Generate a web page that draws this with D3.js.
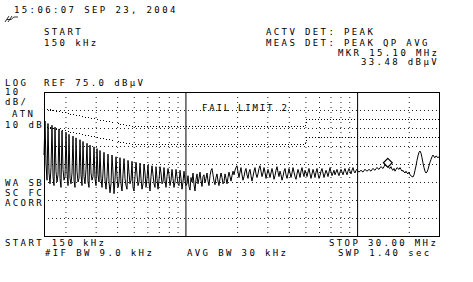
<!DOCTYPE html>
<html>
<head>
<meta charset="utf-8">
<script src="https://cdn.jsdelivr.net/npm/d3@7"></script>
<style>
    body { margin: 0; background: #fff; }
    text {
        font-family: "DejaVu Sans Mono", monospace;
        font-size: 9px;
        letter-spacing: 2.38px;
        fill: #000;
    }
</style>
</head>
<body>
<svg id="chart" width="473" height="282"></svg>
<script>
// trace level in dBuV, one value per display point, 150 kHz .. 30 MHz (log sweep)
let trace = [
    // 150 kHz .. ~330 kHz, harmonic comb
    40, 58.9, 35, 26, 57.5, 30, 24, 33, 56.5, 28,
    23, 55.5, 31, 25, 29, 54.5, 27, 22, 53.5, 32,
    26, 28, 52.5, 30, 23, 51.5, 27, 24, 30, 50.5,
    26, 22, 49.5, 31, 25, 27, 48.5, 29, 23, 47.5,
    28, 24, 32, 46.5, 25, 22, 45.5, 30, 26, 28,
    44.5, 27, 23, 43.5, 29, 25, 42.5,
    // ~330 kHz .. 1 MHz
    27, 22, 30, 41.5, 26, 21, 28, 40.5, 25, 19,
    24, 40.0, 30, 18.5, 26, 39.0, 28, 22, 25, 38.5,
    24, 20, 29, 38.0, 27, 23, 21, 37.0, 30, 24,
    26, 36.5, 22, 20, 28, 36.0, 29, 23, 25, 35.5,
    27, 21, 24, 35.0, 30, 22, 27, 34.5, 25, 20,
    28, 34.0, 29, 24, 22, 33.5, 27, 21, 26, 33.5,
    30, 24, 25, 33.0, 26, 22, 28, 32.5, 29, 23,
    26, 32.0, 27, 22, 25, 32.0, 28, 24, 23, 31.5,
    27, 21, 25, 31.0, 26, 23,
    // 1 MHz .. ~5 MHz
    24.0, 28.5, 22.5, 20.5, 27.5, 25.0, 30.0, 23.5, 20.0, 26.5,
    29.5, 24.0, 27.0, 30.5, 26.0, 22.5, 28.0, 29.0, 24.5, 27.0,
    30.0, 25.5, 23.0, 28.5, 31.5, 32.5, 29.0, 25.5, 23.5, 27.5,
    29.5, 25.5, 23.0, 27.0, 30.0, 27.5, 24.0, 25.0, 29.5, 27.0,
    24.0, 27.5, 30.5, 28.0, 25.5, 28.5, 31.0, 29.0, 31.5, 33.0,
    34.0, 30.5, 27.5, 30.5, 33.0, 29.0, 26.0, 28.0, 31.0, 32.5,
    29.0, 27.0, 30.5, 32.0, 28.5, 25.5, 28.0, 31.0, 33.0, 29.5,
    27.5, 29.5, 32.5, 34.0, 31.0, 28.0, 30.0, 33.0, 30.5, 27.0,
    29.5, 32.0, 30.0, 27.5, 30.0, 32.5, 30.0, 26.5, 28.5, 31.5,
    33.5, 30.5, 28.0, 31.0, 29.0, 26.0, 28.0, 31.0, 32.5, 29.0,
    27.0, 29.5, 32.5, 30.0, 27.5, 30.0, 33.0, 30.5, 28.0, 26.5,
    29.5, 32.0, 30.0, 27.5, 31.0, 33.0, 30.0, 28.0, 31.5, 30.0,
    // ~5 MHz .. 15 MHz
    28.0, 30.5, 32.5, 29.5, 27.0, 29.5, 32.0, 30.0, 27.5, 30.5,
    32.5, 29.5, 27.0, 28.5, 31.0, 32.5, 30.0, 27.5, 29.5, 31.5,
    30.0, 28.0, 30.5, 33.0, 30.5, 28.5, 30.0, 31.5, 29.0, 30.5,
    32.0, 30.0, 28.5, 30.5, 32.0, 30.5, 29.0, 31.0, 32.5, 30.5,
    29.0, 31.0, 32.5, 31.0, 29.5, 31.5, 33.0, 31.0, 30.0, 31.5,
    32.0, 31.0, 30.5, 31.0, 31.5, 31.0, 30.5, 31.5, 32.0, 31.5,
    31.0, 31.5, 32.0, 31.5, 31.0, 32.0, 32.5, 32.0, 31.5, 32.5,
    33.0, 32.5, 32.0, 33.0, 33.5, 33.0, 32.5, 33.5, 34.5, 34.0,
    // 15 MHz .. 30 MHz
    33.8, 33.5, 33.0, 32.5, 33.5, 32.0, 31.5, 32.5, 31.0, 32.0,
    33.0, 32.5, 32.0, 33.0, 32.0, 31.0, 31.5, 30.5, 30.0, 31.0,
    30.0, 29.5, 30.5, 29.0, 28.5, 28.0, 27.8, 29.0, 31.5, 34.0,
    37.0, 39.5, 41.5, 42.2, 41.0, 38.5, 35.5, 33.0, 31.0, 30.0,
    30.5, 32.0, 34.0, 36.0, 37.5, 39.0, 40.0, 39.0, 38.5, 39.5,
    39.0, 38.5, 39.0
];

// EN 55022 class B limits, [MHz, dBuV]
let qpLimit = [[0.15, 66], [0.5, 56], [5, 56], [5.1, 60], [30, 60]];
let avgLimit = [[0.15, 56], [0.5, 46], [5, 46], [5.1, 50], [30, 50]];

let gridFreqs = [0.2, 0.3, 0.4, 0.5, 0.6, 0.7, 0.8, 0.9, 2, 3, 4, 5, 6, 7, 8, 9, 20];
let decadeFreqs = [1, 10];
let levelTicks = [65, 55, 45, 35, 25, 15, 5];

let markerFreq = 15.10,
    markerLevel = 33.48;

let svg = d3.select("#chart");

let plot = {left: 44, right: 439, top: 92, bottom: 236};

let x = d3.scaleLog().domain([0.15, 30]).range([plot.left, plot.right]),
    xi = d3.scaleLinear().domain([0, trace.length - 1]).range([plot.left, plot.right]),
    y = d3.scaleLinear().domain([-5, 75]).range([plot.bottom, plot.top]);

// dotted grid
svg.append("g")
    .attr("transform", `translate(0,${plot.top})`)
    .call(d3.axisBottom(x).tickValues(gridFreqs).tickSize(plot.bottom - plot.top).tickFormat(""))
    .call((g)=>g.select(".domain").remove())
    .call((g)=>g.selectAll(".tick line").attr("stroke", "#222").attr("stroke-dasharray", "1,4"));

svg.append("g")
    .attr("transform", `translate(${plot.left},0)`)
    .call(d3.axisRight(y).tickValues(levelTicks).tickSize(plot.right - plot.left).tickFormat(""))
    .call((g)=>g.select(".domain").remove())
    .call((g)=>g.selectAll(".tick line").attr("stroke", "#222").attr("stroke-dasharray", "1,3"));

svg.append("g")
    .attr("transform", `translate(0,${plot.top})`)
    .call(d3.axisBottom(x).tickValues(decadeFreqs).tickSize(plot.bottom - plot.top).tickFormat(""))
    .call((g)=>g.select(".domain").remove())
    .call((g)=>g.selectAll(".tick line").attr("stroke", "#000"));

svg.append("rect")
    .attr("x", plot.left + 0.5)
    .attr("y", plot.top + 0.5)
    .attr("width", plot.right - plot.left)
    .attr("height", plot.bottom - plot.top)
    .attr("fill", "none")
    .attr("stroke", "#000")
    .attr("shape-rendering", "crispEdges");

// limit lines
let limitLine = d3.line()
    .x((d)=>x(d[0]))
    .y((d)=>y(d[1]) + 0.5);

svg.selectAll(".limit")
    .data([qpLimit, avgLimit])
    .enter().append("path")
    .attr("class", "limit")
    .attr("d", limitLine)
    .attr("fill", "none")
    .attr("stroke", "#000")
    .attr("stroke-width", 1)
    .attr("stroke-dasharray", "1,2")
    .attr("shape-rendering", "crispEdges");

// trace
let traceLine = d3.line()
    .x((d, i)=>xi(i))
    .y((d)=>y(d));

svg.append("path")
    .datum(trace)
    .attr("d", traceLine)
    .attr("fill", "none")
    .attr("stroke", "#000")
    .attr("stroke-width", 1);

svg.append("path")
    .attr("d", d3.symbol(d3.symbolDiamond2, 50)())
    .attr("transform", `translate(${x(markerFreq)},${y(markerLevel) - 4})`)
    .attr("fill", "#fff")
    .attr("stroke", "#000")
    .attr("stroke-width", 1.2);

// annotations
let labels = [
    [14, 13, "15:06:07 SEP 23, 2004"],
    [44, 35, "START"],
    [44, 46, "150 kHz"],
    [266, 35, "ACTV DET: PEAK"],
    [266, 45.5, "MEAS DET: PEAK QP AVG"],
    [338, 55.5, "MKR 15.10 MHz"],
    [361, 65, "33.48 dB\u00b5V"],
    [5, 86, "LOG"],
    [44, 86, "REF 75.0 dB\u00b5V"],
    [5, 95, "10"],
    [5, 105, "dB/"],
    [12, 117, "ATN"],
    [5, 127.5, "10 dB"],
    [5, 185.5, "WA SB"],
    [5, 195.5, "SC FC"],
    [5, 206, "ACORR"],
    [5, 246, "START 150 kHz"],
    [45, 255.5, "#IF BW 9.0 kHz"],
    [187, 255.5, "AVG BW 30 kHz"],
    [329, 246, "STOP 30.00 MHz"],
    [338, 255.5, "SWP 1.40 sec"]
];

svg.selectAll(".label")
    .data(labels)
    .enter().append("text")
    .attr("class", "label")
    .attr("x", (d)=>d[0])
    .attr("y", (d)=>d[1])
    .attr("xml:space", "preserve")
    .text((d)=>d[2]);

svg.append("text")
    .attr("x", 202)
    .attr("y", 111)
    .style("letter-spacing", "1.8px")
    .text("FAIL LIMIT 2");

// little status glyph under the clock
svg.append("path")
    .attr("d", "M5,22 L9,16 M8,22 L12,16 M7,19.5 L11,19.5 L14,17 L18,17")
    .attr("fill", "none")
    .attr("stroke", "#000")
    .attr("stroke-width", 0.8);
</script>
</body>
</html>
